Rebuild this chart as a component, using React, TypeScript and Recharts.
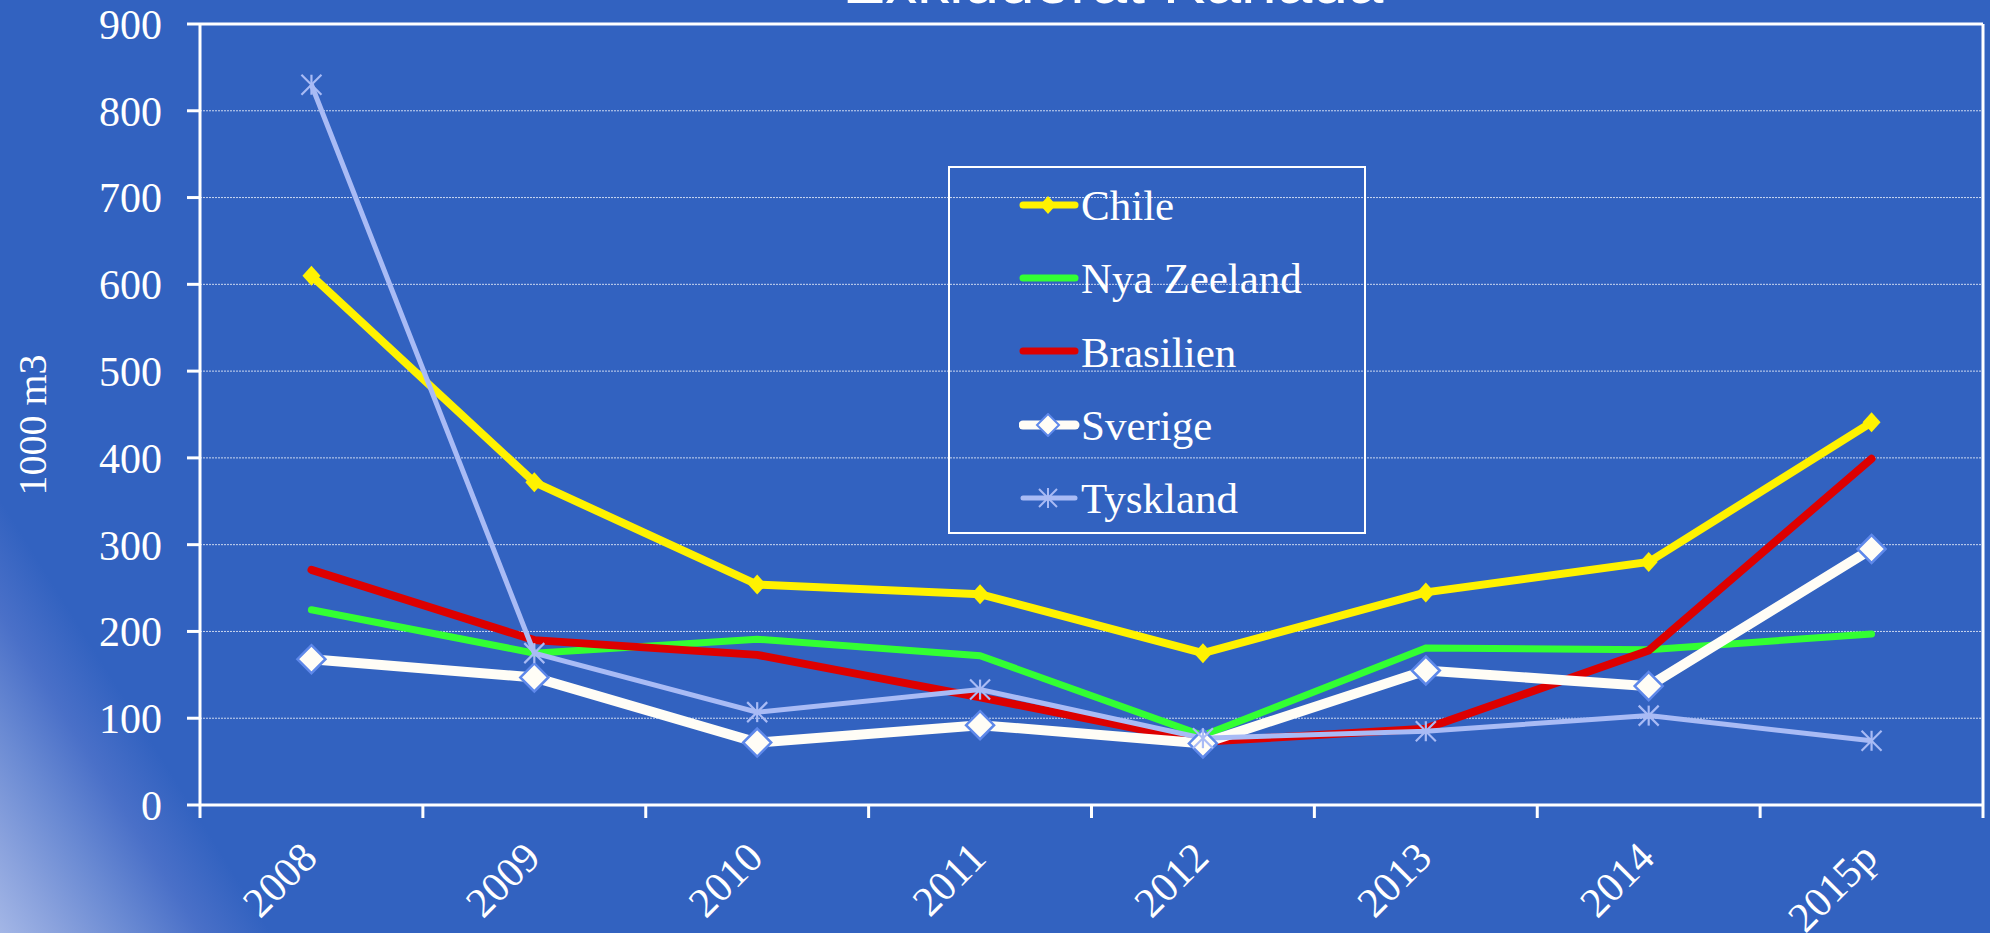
import React from "react";
import { LineChart, Line, XAxis, YAxis, CartesianGrid, ReferenceLine, Legend } from "recharts";

const categories = ["2008", "2009", "2010", "2011", "2012", "2013", "2014", "2015p"];
const chile = [610, 372, 254, 243, 175, 245, 280, 441];
const nyaZeeland = [225, 175, 191, 172, 80, 181, 179, 197];
const brasilien = [271, 190, 173, 124, 73, 88, 178, 399];
const sverige = [168, 147, 72, 92, 71, 155, 137, 295];
const tyskland = [830, 175, 107, 133, 77, 85, 103, 74];
const yTicks = [0, 100, 200, 300, 400, 500, 600, 700, 800, 900];
const title = "Exkluderat Kanada";
const yLabel = "1000 m3";

const data = categories.map((c, i) => ({
  x: i + 0.5,
  label: c,
  chile: chile[i],
  nz: nyaZeeland[i],
  bra: brasilien[i],
  sve: sverige[i],
  tys: tyskland[i],
}));
const xTicks = Array.from({ length: categories.length * 2 + 1 }, (_, i) => i / 2);

const BG = "#3262C0";
const SERIF = "'Liberation Serif', 'Times New Roman', serif";
const C_CHILE = "#FFF200";
const C_NZ = "#33FF33";
const C_BRA = "#DD0000";
const C_SVE = "#FFFDF6";
const C_SVE_EDGE = "#5E88EA";
const C_TYS = "#A9BBF5";

const chileDot = (p: any) => {
  const { cx, cy, index } = p;
  if (cx == null || cy == null) return <g key={"c" + index} />;
  return <path key={"c" + index} d={`M${cx},${cy - 10} L${cx + 9},${cy} L${cx},${cy + 10} L${cx - 9},${cy} Z`} fill={C_CHILE} />;
};
const sveDot = (p: any) => {
  const { cx, cy, index } = p;
  if (cx == null || cy == null) return <g key={"s" + index} />;
  return (
    <path
      key={"s" + index}
      d={`M${cx},${cy - 14} L${cx + 14},${cy} L${cx},${cy + 14} L${cx - 14},${cy} Z`}
      fill={C_SVE}
      stroke={C_SVE_EDGE}
      strokeWidth={2.5}
    />
  );
};
const tysDot = (p: any) => {
  const { cx, cy, index } = p;
  if (cx == null || cy == null) return <g key={"t" + index} />;
  const r = 10;
  return (
    <g key={"t" + index} stroke={C_TYS} strokeWidth={2.2}>
      <line x1={cx - r} y1={cy - r} x2={cx + r} y2={cy + r} />
      <line x1={cx - r} y1={cy + r} x2={cx + r} y2={cy - r} />
      <line x1={cx} y1={cy - r} x2={cx} y2={cy + r} />
    </g>
  );
};

const XTick = (props: any) => {
  const { x, y, payload } = props;
  const v = payload.value;
  if (Number.isInteger(v)) {
    return <line x1={x} y1={y} x2={x} y2={y + 13} stroke="#ffffff" strokeWidth={3} />;
  }
  const lab = categories[Math.floor(v)];
  const ax = x + 8;
  const ay = y + 55;
  return (
    <text x={ax} y={ay} transform={`rotate(-45 ${ax} ${ay})`} textAnchor="end" fill="#ffffff" fontFamily={SERIF} fontSize={42}>
      {lab}
    </text>
  );
};

const legendItems = [
  { name: "Chile", color: C_CHILE, width: 7, marker: "chile" },
  { name: "Nya Zeeland", color: C_NZ, width: 7, marker: "none" },
  { name: "Brasilien", color: C_BRA, width: 7, marker: "none" },
  { name: "Sverige", color: C_SVE, width: 9, marker: "sve" },
  { name: "Tyskland", color: C_TYS, width: 5, marker: "tys" },
];

const LegendIcon = ({ item }: any) => {
  const cy = 12;
  const cx = 29;
  return (
    <svg width={62} height={24} style={{ display: "block", flex: "none" }}>
      <line x1={4} y1={cy} x2={56} y2={cy} stroke={item.color} strokeWidth={item.width} strokeLinecap="round" />
      {item.marker === "chile" && (
        <path d={`M${cx},${cy - 9} L${cx + 8},${cy} L${cx},${cy + 9} L${cx - 8},${cy} Z`} fill={C_CHILE} />
      )}
      {item.marker === "sve" && (
        <path d={`M${cx},${cy - 11} L${cx + 11},${cy} L${cx},${cy + 11} L${cx - 11},${cy} Z`} fill={C_SVE} stroke={C_SVE_EDGE} strokeWidth={2} />
      )}
      {item.marker === "tys" && (
        <g stroke={C_TYS} strokeWidth={2}>
          <line x1={cx - 9} y1={cy - 9} x2={cx + 9} y2={cy + 9} />
          <line x1={cx - 9} y1={cy + 9} x2={cx + 9} y2={cy - 9} />
          <line x1={cx} y1={cy - 10} x2={cx} y2={cy + 10} />
        </g>
      )}
    </svg>
  );
};

const LegendContent = () => (
  <div
    style={{
      width: 418,
      height: 368,
      boxSizing: "border-box",
      border: "2.5px solid #ffffff",
      paddingTop: 0,
    }}
  >
    {legendItems.map((it) => (
      <div key={it.name} style={{ height: 73.3, display: "flex", alignItems: "center", paddingLeft: 69 }}>
        <LegendIcon item={it} />
        <span style={{ fontFamily: SERIF, fontSize: 43, color: "#ffffff", lineHeight: 1, marginLeft: 0, marginTop: 2 }}>{it.name}</span>
      </div>
    ))}
  </div>
);

export default function App() {
  return (
    <div
      style={{
        position: "absolute",
        left: 0,
        top: 0,
        width: 1990,
        height: 933,
        overflow: "hidden",
        background: `linear-gradient(58deg, #a3b6e6 0px, #8aa2dd 50px, #6a8ad3 110px, #4a70c8 170px, ${BG} 230px)`,
        backgroundColor: BG,
      }}
    >
      <svg width={1990} height={933} style={{ position: "absolute", left: 0, top: 0 }}>
        <text x={1113} y={3} textAnchor="middle" fill="#ffffff" fontFamily="'Liberation Sans', Arial, sans-serif" fontSize={64}>
          {title}
        </text>
        <text
          x={46}
          y={425}
          transform="rotate(-90 46 425)"
          textAnchor="middle"
          fill="#ffffff"
          fontFamily={SERIF}
          fontSize={40}
        >
          {yLabel}
        </text>
      </svg>
      <div style={{ position: "absolute", left: 0, top: 0 }}>
        <LineChart width={1990} height={933} data={data} margin={{ top: 24, right: 7, bottom: 0, left: 0 }}>
          <CartesianGrid vertical={false} stroke="#ffffff" strokeDasharray="2 1" strokeOpacity={0.75} strokeWidth={1} />
          <XAxis
            dataKey="x"
            type="number"
            domain={[0, categories.length]}
            ticks={xTicks}
            interval={0}
            height={128}
            tick={<XTick />}
            tickLine={false}
            tickSize={0}
            tickMargin={0}
            axisLine={{ stroke: "#ffffff", strokeWidth: 3 }}
          />
          <YAxis
            type="number"
            domain={[0, 900]}
            ticks={yTicks}
            interval={0}
            width={200}
            tickSize={13}
            tickMargin={25}
            tickLine={{ stroke: "#ffffff", strokeWidth: 3 }}
            axisLine={{ stroke: "#ffffff", strokeWidth: 3 }}
            tick={{ fill: "#ffffff", fontFamily: SERIF, fontSize: 42 }}
          />
          <ReferenceLine y={900} stroke="#ffffff" strokeWidth={3} />
          <ReferenceLine x={categories.length} stroke="#ffffff" strokeWidth={3} />
          <Legend
            layout="horizontal"
            verticalAlign="middle"
            align="center"
            content={<LegendContent />}
            wrapperStyle={{ position: "absolute", left: 948, top: 166, width: 418, height: 368 }}
          />
          <Line dataKey="chile" name="Chile" stroke={C_CHILE} strokeWidth={8} dot={chileDot} activeDot={false} isAnimationActive={false} />
          <Line dataKey="nz" name="Nya Zeeland" stroke={C_NZ} strokeWidth={7} strokeLinecap="round" dot={false} activeDot={false} isAnimationActive={false} />
          <Line dataKey="bra" name="Brasilien" stroke={C_BRA} strokeWidth={8} strokeLinecap="round" dot={false} activeDot={false} isAnimationActive={false} />
          <Line dataKey="sve" name="Sverige" stroke={C_SVE} strokeWidth={10} dot={sveDot} activeDot={false} isAnimationActive={false} />
          <Line dataKey="tys" name="Tyskland" stroke={C_TYS} strokeWidth={5} dot={tysDot} activeDot={false} isAnimationActive={false} />
        </LineChart>
      </div>
    </div>
  );
}
